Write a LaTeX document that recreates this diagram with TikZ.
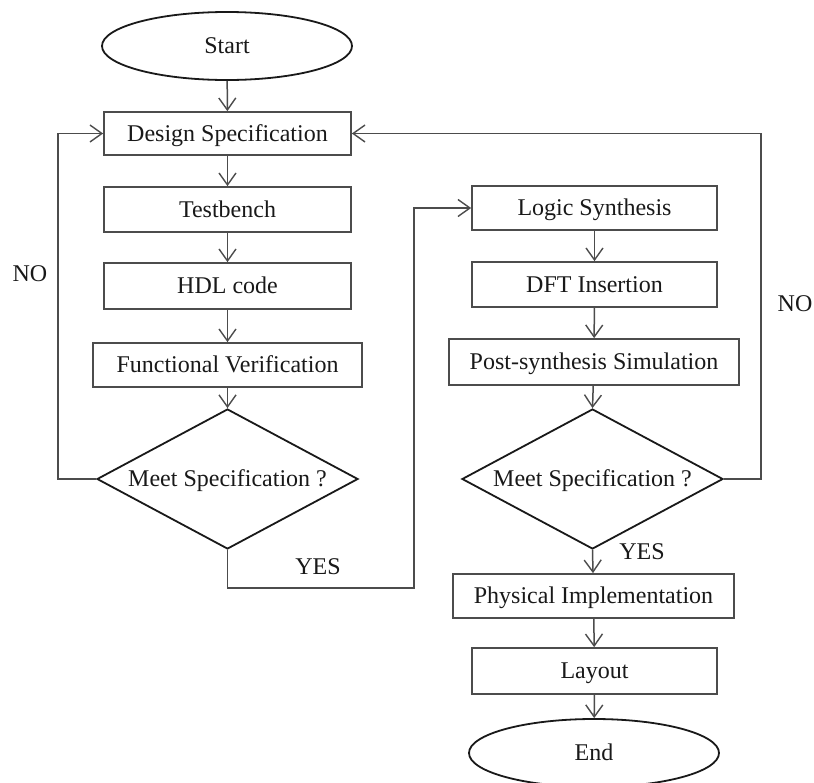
\documentclass[tikz,border=0pt]{standalone}
\usepackage{fontspec}
\setmainfont{Liberation Serif}
\usetikzlibrary{shapes.geometric,arrows.meta}

\tikzset{
  stepbox/.style={draw=black!70, line width=1.7pt, rectangle, inner sep=0pt,
    text=black!90, minimum height=44pt, text height=20pt, text depth=5pt},
  terminal/.style={draw=black!90, line width=1.8pt, ellipse, inner sep=0pt,
    minimum width=250pt, minimum height=68pt, text=black!90,
    text height=20pt, text depth=5pt},
  decision/.style={draw=black!90, line width=1.8pt, diamond, aspect=1.86,
    inner sep=0pt, minimum width=261pt, minimum height=140pt, text=black!90,
    text height=20pt, text depth=5pt},
  flow/.style={draw=black!70, line width=1.5pt,
    -{Straight Barb[length=12pt,width=17pt,line width=1.4pt]}},
  tag/.style={text=black!90, inner sep=0pt}
}

\begin{document}
\begin{tikzpicture}[x=1pt, y=-1pt, font=\fontsize{24}{28}\selectfont]
  \useasboundingbox[fill=white] (0,0) rectangle (814,782);

  % left column
  \node[terminal] (start) at (227,46) {Start};
  \node[stepbox, minimum width=247pt, minimum height=43pt] (ds) at (227.5,133.5) {Design Specification};
  \node[stepbox, minimum width=247pt, minimum height=45pt] (tb) at (227.5,209.5) {Testbench};
  \node[stepbox, minimum width=247pt, minimum height=46pt] (hdl) at (227.5,286) {HDL code};
  \node[stepbox, minimum width=269pt] (fv) at (227.5,365) {Functional Verification};
  \node[decision] (d1) at (227.5,479) {Meet Specification ?};

  % right column
  \node[stepbox, minimum width=245pt] (ls) at (594.5,208) {Logic Synthesis};
  \node[stepbox, minimum width=245pt, minimum height=45pt] (dft) at (594.5,284.5) {DFT Insertion};
  \node[stepbox, minimum width=290pt, minimum height=46pt] (ps) at (594,362) {Post-synthesis Simulation};
  \node[decision] (d2) at (592.5,479) {Meet Specification ?};
  \node[stepbox, minimum width=281pt] (pi) at (593.5,596) {Physical Implementation};
  \node[stepbox, minimum width=245pt, minimum height=46pt] (ly) at (594.5,671) {Layout};
  \node[terminal] (end) at (594,753) {End};

  % routing corners
  \coordinate (noL) at (58,479);
  \coordinate (noR) at (761,479);
  \coordinate (yesB) at (414,588);

  % straight flow
  \draw[flow] (start) -- (ds);
  \draw[flow] (ds) -- (tb);
  \draw[flow] (tb) -- (hdl);
  \draw[flow] (hdl) -- (fv);
  \draw[flow] (fv) -- (d1.north);
  \draw[flow] (ls) -- (dft);
  \draw[flow] (dft) -- (ps);
  \draw[flow] (ps) -- (d2.north);
  \draw[flow] (d2.south) -- (pi);
  \draw[flow] (pi) -- (ly);
  \draw[flow] (ly) -- (end);

  % feedback and branch lines
  \draw[flow] (d1.west) -- (noL) |- (ds.west);
  \draw[flow] (d2.east) -- (noR) |- (ds.east);
  \draw[flow] (d1.south) |- (yesB) |- (ls.west);

  % branch labels
  \node[tag] (noLt) at (30,274) {NO};
  \node[tag] (noRt) at (795,304) {NO};
  \node[tag] (yesLt) at (318,567) {YES};
  \node[tag] (yesRt) at (642,552) {YES};
\end{tikzpicture}
\end{document}
